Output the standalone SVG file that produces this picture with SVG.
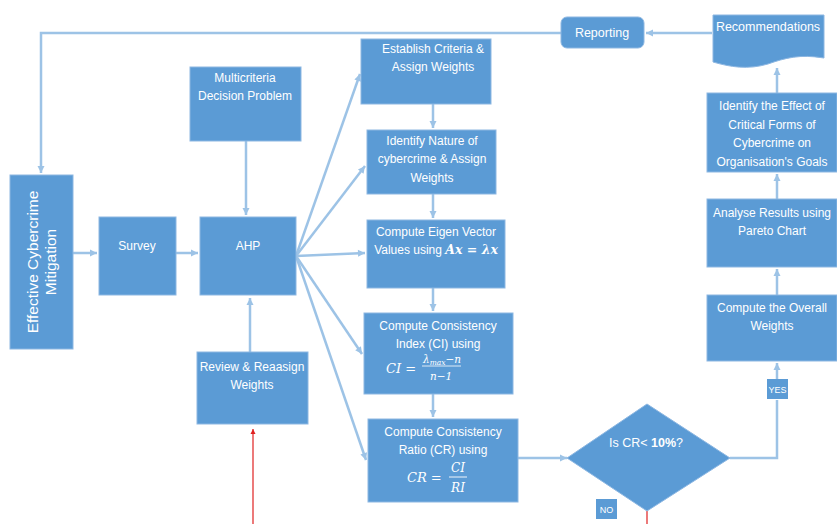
<svg xmlns="http://www.w3.org/2000/svg" width="837" height="524" viewBox="0 0 837 524">
<defs>
<marker id="ah" markerWidth="10" markerHeight="10" refX="8" refY="5" orient="auto" markerUnits="userSpaceOnUse">
<path d="M1,1.5 L8,5 L1,8.5 Z" fill="#9DC3E6"/>
</marker>
<marker id="ahr" markerWidth="8" markerHeight="8" refX="6" refY="4" orient="auto" markerUnits="userSpaceOnUse">
<path d="M1,1.5 L6,4 L1,6.5 Z" fill="#E02020"/>
</marker>
<style>
.box{fill:#5B9BD5;stroke:#8DB7E2;stroke-width:1}
.t{font-family:"Liberation Sans",Arial,sans-serif;font-size:12px;fill:#FFFFFF;text-anchor:middle}
.m{font-family:"DejaVu Serif","Liberation Serif",serif;font-style:italic;fill:#FFFFFF}
.c{fill:none;stroke:#9DC3E6;stroke-width:2.5;marker-end:url(#ah)}
.cn{fill:none;stroke:#9DC3E6;stroke-width:2.5}
</style>
</defs>
<rect width="837" height="524" fill="#FFFFFF"/>

<g id="connectors">
<path class="c" d="M561,33 H41 V173"/>
<path class="c" d="M712,33 H646"/>
<path class="c" d="M73,253 H97"/>
<path class="c" d="M176,253 H198"/>
<path class="c" d="M246,141 V215"/>
<path class="c" d="M250,352 V298"/>
<path class="c" d="M296,256 L360,74"/>
<path class="c" d="M296,256 L365,166"/>
<path class="c" d="M296,256 L365,253"/>
<path class="c" d="M296,256 L362,354"/>
<path class="c" d="M296,256 L366,460"/>
<path class="c" d="M433,104 V128"/>
<path class="c" d="M433,194 V218"/>
<path class="c" d="M433,288 V311"/>
<path class="c" d="M433,394 V417"/>
<path class="c" d="M518,458 H567"/>
<path class="cn" d="M730,458 H777 V400"/>
<path class="c" d="M777,379 V363"/>
<path class="c" d="M777,295 V269"/>
<path class="c" d="M777,199 V174"/>
<path class="c" d="M777,93 V68"/>
<path d="M253,524 V429" fill="none" stroke="#E02020" stroke-width="1.2" marker-end="url(#ahr)"/>
<path d="M647,511 V524" fill="none" stroke="#E02020" stroke-width="1.2"/>
</g>

<g id="reporting">
<rect class="box" x="561" y="17" width="83" height="31" rx="6" stroke="#41719C"/>
<text class="t" x="602" y="37" style="font-size:12.5px">Reporting</text>
</g>

<g id="recommendations">
<path class="box" d="M713,15 H824 V58 C800,54 785,58 768,64 C748,70 730,67 713,62 Z"/>
<text class="t" x="768" y="31" style="font-size:12.5px">Recommendations</text>
</g>

<g id="effective">
<rect class="box" x="10" y="175" width="63" height="174"/>
<text class="t" style="font-size:15.5px" transform="translate(38,262) rotate(-90)">Effective Cybercrime</text>
<text class="t" style="font-size:15.5px" transform="translate(56,262) rotate(-90)">Mitigation</text>
</g>

<g id="survey">
<rect class="box" x="99" y="217" width="77" height="78"/>
<text class="t" x="137" y="250">Survey</text>
</g>

<g id="ahp">
<rect class="box" x="200" y="217" width="96" height="78"/>
<text class="t" x="248" y="250">AHP</text>
</g>

<g id="multicriteria">
<rect class="box" x="190" y="67" width="111" height="74"/>
<text class="t" x="245" y="82">Multicriteria</text>
<text class="t" x="245" y="100">Decision Problem</text>
</g>

<g id="review">
<rect class="box" x="197" y="352" width="111" height="72"/>
<text class="t" x="252" y="371">Review &amp; Reaasign</text>
<text class="t" x="252" y="389">Weights</text>
</g>

<g id="establish">
<rect class="box" x="361" y="39" width="130" height="65"/>
<text class="t" x="433" y="53">Establish Criteria &amp;</text>
<text class="t" x="433" y="71">Assign Weights</text>
</g>

<g id="identify-nature">
<rect class="box" x="367" y="130" width="129" height="64"/>
<text class="t" x="432" y="145">Identify Nature of</text>
<text class="t" x="432" y="163">cybercrime &amp; Assign</text>
<text class="t" x="432" y="182">Weights</text>
</g>

<g id="eigen">
<rect class="box" x="367" y="220" width="138" height="68"/>
<text class="t" x="436" y="236">Compute Eigen Vector</text>
<text class="t" x="436" y="254">Values using <tspan class="m" style="font-size:12.5px;font-weight:bold">Ax = λx</tspan></text>
</g>

<g id="ci">
<rect class="box" x="364" y="313" width="149" height="81"/>
<text class="t" x="438" y="330">Compute Consistency</text>
<text class="t" x="438" y="348">Index  (CI) using</text>
<text class="m" x="386" y="373" style="font-size:13px">CI =</text>
<text class="m" x="423" y="363" style="font-size:10.5px">λ<tspan style="font-size:7.5px" dy="2">max</tspan><tspan dy="-2">−n</tspan></text>
<line x1="422" y1="366" x2="461" y2="366" stroke="#FFFFFF" stroke-width="0.8"/>
<text class="m" x="441" y="380" style="font-size:10.5px;text-anchor:middle">n−1</text>
</g>

<g id="cr">
<rect class="box" x="368" y="419" width="150" height="83"/>
<text class="t" x="443" y="436">Compute Consistency</text>
<text class="t" x="443" y="454">Ratio (CR)  using</text>
<text class="m" x="407" y="482" style="font-size:13px">CR =</text>
<text class="m" x="458" y="472" style="font-size:12px;text-anchor:middle">CI</text>
<line x1="449" y1="477" x2="467" y2="477" stroke="#FFFFFF" stroke-width="0.9"/>
<text class="m" x="458" y="492" style="font-size:12px;text-anchor:middle">RI</text>
</g>

<g id="decision">
<polygon class="box" points="647,404 730,458 647,511 567,458"/>
<text class="t" x="646" y="447" style="font-size:12.5px">Is CR&lt; <tspan font-weight="bold">10%</tspan>?</text>
</g>

<g id="no-label">
<rect x="596" y="499" width="21" height="20" fill="#5B9BD5"/>
<text class="t" x="606.5" y="513" style="font-size:9px">NO</text>
</g>

<g id="yes-label">
<rect x="767" y="379" width="21" height="20" fill="#5B9BD5"/>
<text class="t" x="777.5" y="393" style="font-size:9px">YES</text>
</g>

<g id="overall">
<rect class="box" x="707" y="295" width="130" height="66"/>
<text class="t" x="772" y="312">Compute the Overall</text>
<text class="t" x="772" y="330">Weights</text>
</g>

<g id="analyse">
<rect class="box" x="707" y="199" width="130" height="68"/>
<text class="t" x="772" y="217">Analyse Results using</text>
<text class="t" x="772" y="235">Pareto Chart</text>
</g>

<g id="identify-effect">
<rect class="box" x="707" y="93" width="130" height="79"/>
<text class="t" x="772" y="110">Identify the Effect of</text>
<text class="t" x="772" y="129">Critical Forms of</text>
<text class="t" x="772" y="147">Cybercrime on</text>
<text class="t" x="772" y="166">Organisation's Goals</text>
</g>
</svg>
